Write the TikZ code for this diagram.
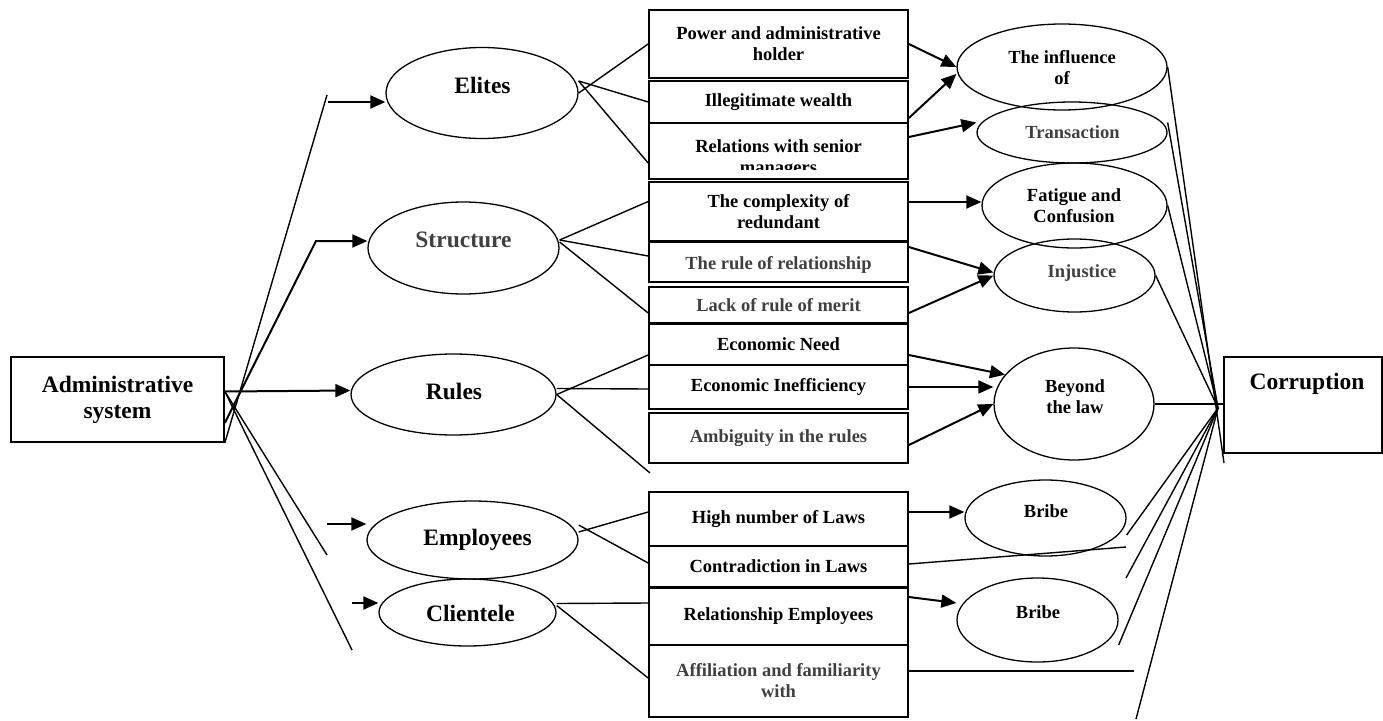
\documentclass[tikz,border=0pt]{standalone}
\usepackage{fontspec}
\setmainfont{Liberation Serif}
\usepackage{tikz}
\usetikzlibrary{arrows.meta,shapes.geometric}
\definecolor{mygreytext}{HTML}{404040}
\tikzset{
  causebox/.style={draw, rectangle, line width=1.7pt, minimum width=259pt, inner sep=0pt, align=center, font=\fontsize{18.5pt}{21pt}\selectfont\bfseries},
  endbox/.style={draw, rectangle, line width=1.7pt, inner sep=0pt, align=center, font=\fontsize{23.5pt}{26pt}\selectfont\bfseries},
  oval/.style={draw, ellipse, line width=1.3pt, inner sep=0pt},
  bigtext/.style={inner sep=0pt, align=center, font=\fontsize{23.5pt}{26pt}\selectfont\bfseries},
  smalltext/.style={inner sep=0pt, align=center, font=\fontsize{18.5pt}{21pt}\selectfont\bfseries},
  greytext/.style={text=mygreytext},
  link/.style={line width=1.4pt},
  arrowlink/.style={line width=2pt, -{Triangle[length=15pt,width=13pt]}}
}

\begin{document}
\begin{tikzpicture}[x=1pt,y=-1pt]%
\useasboundingbox (0,0) rectangle (1383,720);%
\node[endbox, minimum width=213pt, minimum height=85pt] (admin) at (117.5,399.5) {Administrative\\system};%
\node[oval, minimum width=192pt, minimum height=91pt] (elites) at (482,93) {};%
\node[oval, minimum width=191pt, minimum height=92pt] (structure) at (463.5,248) {};%
\node[oval, minimum width=205pt, minimum height=81pt] (rules) at (453.5,394.5) {};%
\node[oval, minimum width=211pt, minimum height=78pt] (employees) at (472.5,540) {};%
\node[oval, minimum width=177pt, minimum height=67pt] (clientele) at (467.5,612.5) {};%
\node[bigtext] (elitesT) at (482.5,85) {Elites};%
\node[bigtext, greytext] (structureT) at (463.5,240) {Structure};%
\node[bigtext] (rulesT) at (454,391) {Rules};%
\node[bigtext] (employeesT) at (477.5,540) {Employees};%
\node[bigtext] (clienteleT) at (470.5,613) {Clientele};%
\node[causebox, minimum height=68pt] (power) at (778.5,44) {Power and administrative\\holder};%
\node[causebox, minimum height=42pt] (wealth) at (778.5,102) {Illegitimate wealth};%
\node[causebox, minimum height=56pt] (relations) at (778.5,151) {};%
\node[causebox, minimum height=59pt] (complexity) at (778.5,211.5) {The complexity of\\redundant};%
\node[causebox, minimum height=40pt] (relship) at (778.5,262) {};%
\node[causebox, greytext, minimum height=37pt] (merit) at (778.5,305.5) {Lack of rule of merit};%
\node[causebox, minimum height=42pt] (econneed) at (778.5,344) {Economic Need};%
\node[causebox, minimum height=44pt] (ineff) at (778.5,387) {Economic Inefficiency};%
\node[causebox, greytext, minimum height=50pt] (ambig) at (778.5,438) {Ambiguity in the rules};%
\node[causebox, minimum height=54pt] (highlaws) at (778.5,519) {High number of Laws};%
\node[causebox, minimum height=41pt] (contra) at (778.5,566.5) {Contradiction in Laws};%
\node[causebox, minimum height=57pt] (relemp) at (778.5,616.5) {Relationship Employees};%
\node[causebox, greytext, minimum height=72pt] (affil) at (778.5,681) {Affiliation and familiarity\\with};%
\begin{scope}%
\clip (650,124) rectangle (907,169);%
\node[smalltext] (relationsT) at (778.5,159) {Relations with senior\\managers};%
\end{scope}%
\begin{scope}%
\clip (650,243) rectangle (907,272);%
\node[smalltext, greytext] (relshipT) at (778.5,265) {The rule of relationship};%
\end{scope}%
\node[oval, minimum width=210pt, minimum height=86pt] (influence) at (1062,67) {};%
\node[oval, minimum width=190pt, minimum height=61pt] (transaction) at (1072,132.5) {};%
\node[oval, minimum width=185pt, minimum height=85pt] (fatigue) at (1074.5,205.5) {};%
\node[oval, minimum width=161pt, minimum height=73pt] (injustice) at (1074.5,275.5) {};%
\node[oval, minimum width=160pt, minimum height=112pt] (beyond) at (1074,404) {};%
\node[oval, minimum width=161pt, minimum height=76pt] (bribeA) at (1045.5,518) {};%
\node[oval, minimum width=161pt, minimum height=84pt] (bribeB) at (1037.5,620) {};%
\node[smalltext] (influenceT) at (1062,68) {The influence\\of};%
\node[smalltext, greytext] (transactionT) at (1072.5,132) {Transaction};%
\node[smalltext] (fatigueT) at (1074,206) {Fatigue and\\Confusion};%
\node[smalltext, greytext] (injusticeT) at (1082,273) {Injustice};%
\node[smalltext] (beyondT) at (1075,397) {Beyond\\the law};%
\node[smalltext] (bribeAT) at (1046,511) {Bribe};%
\node[smalltext] (bribeBT) at (1038,612) {Bribe};%
\node[endbox, minimum width=158pt, minimum height=96pt] (corr) at (1303,405) {};%
\node[bigtext] (corrT) at (1307,384) {Corruption};%
\coordinate (eliteTop) at (327,95);%
\coordinate (eliteArr) at (328,102);%
\coordinate (structBend) at (316,241);%
\coordinate (empEnd) at (327,555);%
\coordinate (cliEnd) at (352,650);%
\coordinate (empArr) at (327,524);%
\coordinate (cliArr) at (352,603);%
\coordinate (rulesEnd) at (650,473);%
\coordinate (contraEnd) at (1126,547);%
\coordinate (affilEnd) at (1134,671);%
\coordinate (conv) at (1218,408);%
\coordinate (corrTail) at (1224,463);%
\coordinate (lowA) at (1126,578);%
\coordinate (lowB) at (1136,719);%
\draw[link] (admin.south east) -- (eliteTop);%
\draw[arrowlink] (eliteArr) -- (eliteArr -| elites.west);%
\draw[arrowlink] ([yshift=20pt]admin.south east) -- (structBend) -- (structBend -| structure.west);%
\draw[arrowlink] ([yshift=8pt]admin.east) -- ([yshift=4pt]rules.west);%
\draw[link] ([yshift=8pt]admin.east) -- (empEnd);%
\draw[link] ([yshift=8pt]admin.east) -- (cliEnd);%
\draw[arrowlink] (empArr) -- (empArr -| employees.west);%
\draw[arrowlink] (cliArr) -- (cliArr -| clientele.west);%
\draw[link] (elites.east) -- (power.west);%
\draw[link] ([yshift=12pt]elites.east) -- (wealth.west);%
\draw[link] ([yshift=12pt]elites.east) -- ([yshift=-12pt]relations.west);%
\draw[link] ([yshift=8pt]structure.east) -- ([yshift=10pt]complexity.west);%
\draw[link] ([yshift=8pt]structure.east) -- ([yshift=6pt]relship.west);%
\draw[link] ([yshift=6pt]structure.east) -- ([yshift=-7.5pt]merit.west);%
\draw[link] (rules.east) -- ([yshift=-11pt]econneed.west);%
\draw[link] ([yshift=6pt]rules.east) -- ([yshift=-2pt]ineff.west);%
\draw[link] (rules.east) -- (rulesEnd);%
\draw[link] ([yshift=8pt]employees.east) -- ([yshift=7pt]highlaws.west);%
\draw[link] ([yshift=15pt]employees.east) -- ([yshift=3.5pt]contra.west);%
\draw[link] ([yshift=9pt]clientele.east) -- ([yshift=13.5pt]relemp.west);%
\draw[link] ([yshift=7pt]clientele.east) -- ([yshift=3pt]affil.west);%
\draw[arrowlink] (power.east) -- (influence.west);%
\draw[arrowlink] ([yshift=-16pt]wealth.east) -- ([yshift=-7pt]influence.west);%
\draw[arrowlink] ([yshift=14pt]relations.east) -- ([yshift=10pt]transaction.west);%
\draw[arrowlink] ([yshift=9.5pt]complexity.east) -- ([yshift=9.5pt]complexity.east -| fatigue.west);%
\draw[arrowlink] ([yshift=15pt]relship.east) -- ([yshift=3pt]injustice.west);%
\draw[arrowlink] ([yshift=-7.5pt]merit.east) -- (injustice.west);%
\draw[arrowlink] ([yshift=-11pt]econneed.east) -- (beyond.157);%
\draw[arrowlink] (ineff.east) -- (ineff.east -| beyond.west);%
\draw[arrowlink] ([yshift=-7pt]ambig.east) -- (beyond.west);%
\draw[arrowlink] ([yshift=7pt]highlaws.east) -- ([yshift=7pt]highlaws.east -| bribeA.west);%
\draw[link] ([yshift=2.5pt]contra.east) -- (contraEnd);%
\draw[arrowlink] ([yshift=19.5pt]relemp.east) -- ([yshift=17pt]bribeB.west);%
\draw[link] ([yshift=10pt]affil.east) -- (affilEnd);%
\draw[link] (influence.east) -- (corrTail);%
\draw[link] ([yshift=10pt]transaction.east) -- (conv);%
\draw[link] (fatigue.east) -- (conv);%
\draw[link] (injustice.east) -- (conv);%
\draw[link] (beyond.east) -- (beyond.east -| corr.west);%
\draw[link] (conv) -- ([yshift=-17pt]bribeA.east);%
\draw[link] (conv) -- (lowA);%
\draw[link] (conv) -- ([yshift=-25pt]bribeB.east);%
\draw[link] (conv) -- (lowB);%
\end{tikzpicture}
\end{document}
